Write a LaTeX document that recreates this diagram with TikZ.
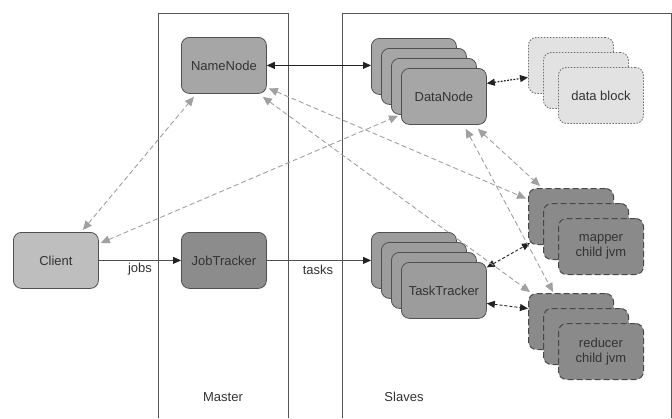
\documentclass[tikz,border=0pt]{standalone}
\usepackage{fontspec}
\setmainfont{Liberation Sans}
\usetikzlibrary{arrows.meta,calc}
\definecolor{txt}{HTML}{333333}
\definecolor{bord}{HTML}{505050}
\definecolor{panel}{HTML}{555555}
\definecolor{nnfill}{HTML}{A6A6A6}
\definecolor{clfill}{HTML}{BEBEBE}
\definecolor{jtfill}{HTML}{8C8C8C}
\definecolor{ttfill}{HTML}{9C9C9C}
\definecolor{mrfill}{HTML}{8A8A8A}
\definecolor{dbfill}{HTML}{E2E2E2}
\definecolor{dbbord}{HTML}{707070}
\definecolor{gline}{HTML}{A0A0A0}
\definecolor{tipc}{HTML}{222222}
\begin{document}
\begin{tikzpicture}[x=1pt,y=-1pt,
  font=\fontsize{13}{15}\selectfont, text=txt,
  card/.style={draw=bord, line width=0.8pt, rounded corners=8pt,
    minimum width=85pt, minimum height=56pt, inner sep=0pt,
    anchor=north west, align=center},
  nncard/.style={card, fill=nnfill},
  clcard/.style={card, fill=clfill},
  jtcard/.style={card, fill=jtfill},
  ttcard/.style={card, fill=ttfill},
  mrcard/.style={card, fill=mrfill, draw=bord!90!black, line width=1pt, dash pattern=on 6pt off 3pt},
  dbcard/.style={card, fill=dbfill, draw=dbbord, line width=0.9pt, dash pattern=on 1.5pt off 1.5pt},
  panelline/.style={draw=panel, line width=0.8pt},
  solidarrow/.style={draw=tipc, line width=0.8pt,
    {Triangle[length=8pt,width=7pt]}-{Triangle[length=8pt,width=7pt]}},
  onearrow/.style={draw=bord, line width=0.8pt, -{Triangle[length=8pt,width=7pt,color=tipc]}},
  dotarrow/.style={draw=tipc, line width=1.2pt, dash pattern=on 1.8pt off 1.4pt,
    {Triangle[length=8pt,width=7pt]}-{Triangle[length=8pt,width=7pt]}},
  dasharrow/.style={draw=tipc, line width=0.9pt, dash pattern=on 3pt off 2pt,
    {Triangle[length=8pt,width=7pt]}-{Triangle[length=8pt,width=7pt]}},
  garrow/.style={draw=gline, line width=0.9pt, dash pattern=on 5pt off 3pt,
    {Triangle[length=9pt,width=8pt]}-{Triangle[length=9pt,width=8pt]}},
]
\useasboundingbox (0,0) rectangle (672,418);
\fill[white] (0,0) rectangle (672,418);

% panels
\draw[panelline] (158,418) -- (158,13) -- (288,13) -- (288,418);
\draw[panelline] (342,418) -- (342,13) -- (671,13) -- (671,418);

% master nodes
\node[nncard] (nn) at (181,37) {NameNode};
\node[clcard] (cl) at (13,232) {Client};
\node[jtcard] (jt) at (181,232) {JobTracker};

% DataNode stack
\node[nncard] (dn1) at (371,38) {};
\node[nncard] (dn2) at (381,48) {};
\node[nncard] (dn3) at (391,58) {};
\node[nncard] (dn4) at (401,68) {DataNode};

% TaskTracker stack
\node[ttcard] (tt1) at (371,232) {};
\node[ttcard] (tt2) at (381,242) {};
\node[ttcard] (tt3) at (391,252) {};
\node[ttcard] (tt4) at (401,262) {TaskTracker};

% data block stack
\node[dbcard] (db1) at (528,37) {};
\node[dbcard] (db2) at (543,52) {};
\node[dbcard] (db3) at (558,67) {data block};

% mapper stack
\node[mrcard] (m1) at (528,188) {};
\node[mrcard] (m2) at (543,203) {};
\node[mrcard] (m3) at (558,218) {mapper\\child jvm};

% reducer stack
\node[mrcard] (r1) at (528,293) {};
\node[mrcard] (r2) at (543,308) {};
\node[mrcard] (r3) at (558,323) {reducer\\child jvm};

% labels
\node (jobs) at (140,269) {jobs};
\node (tasks) at (318,270) {tasks};
\node (master) at (223,397) {Master};
\node (slaves) at (404,397) {Slaves};

% solid connectors
\draw[onearrow] (cl.east) -- (jt.west);
\draw[onearrow] (jt.east) -- (jt.east -| tt1.west);
\draw[solidarrow] (nn.east) -- (nn.east -| dn1.west);

% black dotted / dashed
\draw[dotarrow] ([yshift=13pt]dn4.east) -- ([yshift=-12pt]db1.west);
\draw[dasharrow] ([yshift=23pt]tt4.east) -- ([shift={(2pt,2pt)}]m1.south west);
\draw[dasharrow] ([yshift=-13pt]tt4.east) -- ([yshift=13pt]r1.west);

% gray dashed connectors
\draw[garrow] ([xshift=27pt,yshift=2pt]cl.north) -- ([shift={(-30pt,-3pt)}]nn.south);
\draw[garrow] ([shift={(2pt,-11pt)}]cl.north east) -- ([shift={(7pt,-1pt)}]dn3.south west);
\draw[garrow] ([shift={(2pt,-23pt)}]nn.east) -- ([shift={(-2pt,18pt)}]m1.west);
\draw[garrow] ([shift={(-4pt,-3pt)}]nn.south east) -- ([shift={(2pt,1pt)}]r1.north west);
\draw[garrow] ([shift={(-9pt,-4pt)}]dn4.south east) -- ([shift={(12pt,2pt)}]m1.north west);
\draw[garrow] ([shift={(-21pt,-4pt)}]dn4.south east) -- ([shift={(25pt,1pt)}]r1.north west);
\end{tikzpicture}
\end{document}
